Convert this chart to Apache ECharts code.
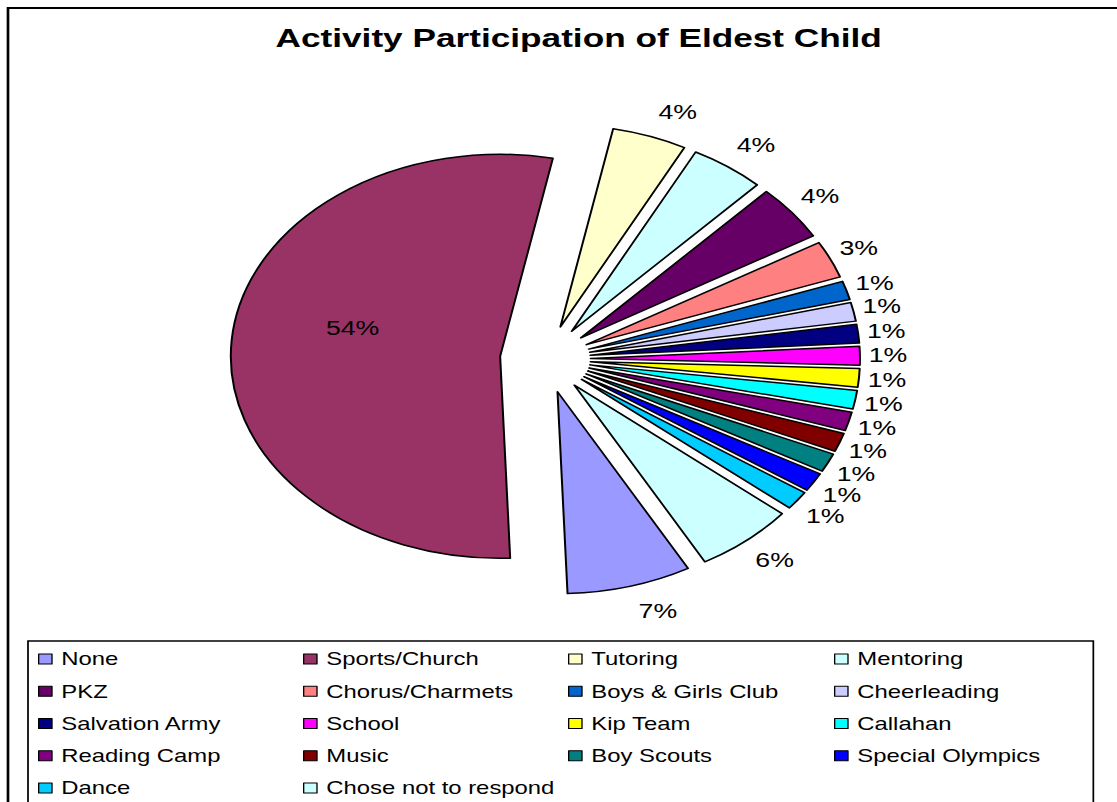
<!DOCTYPE html>
<html>
<head>
<meta charset="utf-8">
<script src="https://cdn.jsdelivr.net/npm/echarts@6/dist/echarts.min.js"></script>
<style>
  html, body { margin: 0; padding: 0; background: #fff; overflow: hidden; }
  #wrap { width: 1117px; height: 802px; overflow: hidden; }
  #chart { width: 837.75px; height: 802px; transform: scaleX(1.333333); transform-origin: 0 0; }
</style>
</head>
<body>
<div id="wrap"><div id="chart"></div></div>
<script>
const titleText = 'Activity Participation of Eldest Child';
const categories = ['None', 'Sports/Church', 'Tutoring', 'Mentoring', 'PKZ', 'Chorus/Charmets',
  'Boys & Girls Club', 'Cheerleading', 'Salvation Army', 'School', 'Kip Team', 'Callahan',
  'Reading Camp', 'Music', 'Boy Scouts', 'Special Olympics', 'Dance', 'Chose not to respond'];
const counts = [5, 36, 3, 3, 3, 2, 1, 1, 1, 1, 1, 1, 1, 1, 1, 1, 1, 4];
const colors = ['#9999FF', '#993366', '#FFFFCC', '#CCFFFF', '#660066', '#FF8080',
  '#0066CC', '#CCCCFF', '#000080', '#FF00FF', '#FFFF00', '#00FFFF',
  '#800080', '#800000', '#008080', '#0000FF', '#00CCFF', '#CCFFFF'];
const legendCol1 = ['None', 'PKZ', 'Salvation Army', 'Reading Camp', 'Dance'];
const legendCol2 = ['Sports/Church', 'Chorus/Charmets', 'School', 'Music', 'Chose not to respond'];
const legendCol3 = ['Tutoring', 'Boys & Girls Club', 'Kip Team', 'Boy Scouts'];
const legendCol4 = ['Mentoring', 'Cheerleading', 'Callahan', 'Special Olympics'];

const FONT = "'Liberation Sans', Arial, sans-serif";
const total = counts.reduce((a, b) => a + b, 0);

// first slice starts 151 degrees clockwise from 12 o'clock (Excel "angle of first slice")
const firstSliceAngle = 151;
const labelLineLen = 26;
const insideIndex = 1; // the big slice carries its label inside

// Excel-style label placement: label sits a fixed horizontal gap right of the slice end
let cum = 0;
const pieData = categories.map((name, i) => {
  const mid = (firstSliceAngle + 360 * (cum + counts[i] / 2) / total) * Math.PI / 180;
  cum += counts[i];
  const dirX = Math.sin(mid);
  const item = { name: name, value: counts[i], selected: true, itemStyle: { color: colors[i] } };
  if (i === insideIndex) {
    item.label = { position: 'inside', padding: [0, 14, 0, 0] };
  } else {
    item.label = { distanceToLabelLine: 6.6 - labelLineLen * dirX };
  }
  return item;
});

const legendCols = [legendCol1, legendCol2, legendCol3, legendCol4];
const legendLefts = [28.5, 227.25, 426, 625.5];
const legends = legendCols.map((col, i) => ({
  orient: 'vertical',
  left: legendLefts[i],
  top: 649,
  padding: 0,
  itemGap: 12.25,
  itemWidth: 10,
  itemHeight: 10,
  icon: 'rect',
  selectedMode: false,
  itemStyle: { borderColor: '#000', borderWidth: 1 },
  textStyle: { fontFamily: FONT, fontSize: 17.9, color: '#000', lineHeight: 20, padding: [0, 0, 0, 2] },
  data: col
}));

const chart = echarts.init(document.getElementById('chart'), null, { renderer: 'svg' });
chart.setOption({
  animation: false,
  backgroundColor: '#fff',
  graphic: [
    { type: 'rect', z: -1, shape: { x: 6, y: 8, width: 900, height: 900 },
      style: { fill: 'none', stroke: '#000', lineWidth: 2 } },
    { type: 'rect', z: -1, shape: { x: 21, y: 641, width: 799, height: 300 },
      style: { fill: 'none', stroke: '#000', lineWidth: 1.3 } },
    { type: 'text', x: 434, y: 38,
      style: { text: titleText, font: "bold 26.4px 'Liberation Sans', Arial, sans-serif",
        fill: '#000', textAlign: 'center', textVerticalAlign: 'middle' } }
  ],
  legend: legends,
  series: [{
    type: 'pie',
    center: [409, 359],
    radius: [0, 202],
    startAngle: 90 - firstSliceAngle,
    clockwise: true,
    selectedMode: 'multiple',
    selectedOffset: 34,
    avoidLabelOverlap: false,
    labelLayout: { hideOverlap: false },
    itemStyle: { borderColor: '#000', borderWidth: 1.5 },
    label: {
      show: true,
      position: 'outside',
      fontFamily: FONT,
      fontSize: 20,
      lineHeight: 20,
      color: '#000',
      formatter: p => Math.round(p.value / total * 100) + '%' + (p.dataIndex === insideIndex ? '\n\n' : '')
    },
    labelLine: { show: false, length: labelLineLen, length2: 0 },
    emphasis: { disabled: true },
    data: pieData
  }]
});
</script>
</body>
</html>
